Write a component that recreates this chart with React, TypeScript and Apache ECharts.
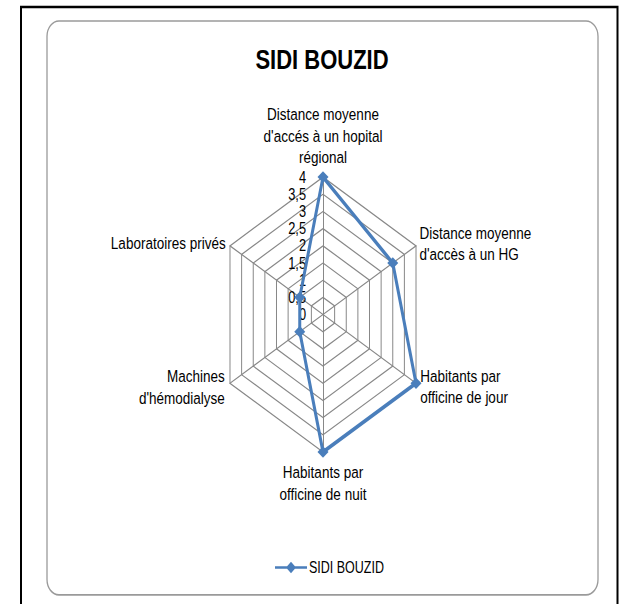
import React, { useEffect, useRef } from "react";
import * as echarts from "echarts";

// Indicators listed counter-clockwise from the top (ECharts radar order)
const indicatorNames = [
  "Distance moyenne\nd'accés à un hopital\nrégional",
  "Laboratoires privés",
  "Machines\nd'hémodialyse",
  "Habitants par\nofficine de nuit",
  "Habitants par\nofficine de jour",
  "Distance moyenne\nd'accès à un HG",
];
const nameGaps = [7, 5, 6, 7, 5, 4];
const seriesName = "SIDI BOUZID";
const seriesValues = [4, 1, 1, 4, 4, 3];
const axisMax = 4;
const splitCount = 8;

const SCALE_Y = 1.2797;
const W = 619;
const H = 472;
const FONT = "'Liberation Sans', Arial, sans-serif";
const BLUE = "#4A7EBB";

export default function App() {
  const ref = useRef<HTMLDivElement>(null);
  useEffect(() => {
    if (!ref.current) return;
    const chart = echarts.init(ref.current, undefined, { renderer: "svg" });
    chart.setOption({
      animation: false,
      backgroundColor: "#fff",
      graphic: [
        {
          type: "rect",
          shape: { x: 21, y: 5.5, width: 596.5, height: 520 },
          style: { fill: "none", stroke: "#000", lineWidth: 2 },
          silent: true,
        },
        {
          type: "rect",
          shape: { x: 47, y: 16.4, width: 551, height: 448.4, r: 12 },
          style: { fill: "none", stroke: "#9a9a9a", lineWidth: 1.3 },
          silent: true,
        },
        {
          type: "text",
          x: 322,
          y: 46,
          style: {
            text: seriesName,
            align: "center",
            verticalAlign: "middle",
            fontFamily: FONT,
            fontSize: 22,
            fontWeight: "bold",
            fill: "#000",
          },
        },
      ],
      legend: {
        data: [seriesName],
        left: 270,
        top: 432,
        itemWidth: 32,
        itemHeight: 9,
        itemGap: 10,
        icon: "path://M0,3.5 L32,3.5 L32,5.5 L0,5.5 Z M16,0 L21,4.5 L16,9 L11,4.5 Z",
        textStyle: { fontFamily: FONT, fontSize: 12.5, color: "#000", padding: [0, 0, 0, -3] },
      },
      radar: {
        center: [323, 245.8],
        radius: 107.4,
        startAngle: 90,
        splitNumber: splitCount,
        shape: "polygon",
        axisName: {
          color: "#000",
          fontFamily: FONT,
          fontSize: 13.5,
          lineHeight: 17,
        },
        axisLine: { show: true, lineStyle: { color: "#888", width: 1 } },
        splitLine: { show: true, lineStyle: { color: "#888", width: 1 } },
        splitArea: { show: false },
        axisTick: { show: false },
        axisLabel: { show: false },
        indicator: indicatorNames.map((name, i) => {
          const ind: any = { name, min: 0, max: axisMax, nameGap: nameGaps[i] };
          if (i === 0) {
            ind.axisLabel = {
              show: true,
              margin: 17,
              color: "#000",
              fontFamily: FONT,
              fontSize: 12.8,
              lineHeight: 11,
              showMinLabel: true,
              showMaxLabel: true,
              hideOverlap: false,
              formatter: (v: number) => String(v).replace(".", ","),
            };
          }
          return ind;
        }),
      },
      series: [
        {
          type: "radar",
          name: seriesName,
          symbol: "diamond",
          symbolSize: [11, 9],
          lineStyle: { color: BLUE, width: 3 },
          itemStyle: { color: BLUE },
          data: [{ name: seriesName, value: seriesValues }],
        },
      ],
    });
    return () => chart.dispose();
  }, []);

  return (
    <div
      style={{
        position: "absolute",
        left: 0,
        top: 0,
        width: W,
        height: H,
        transform: `scaleY(${SCALE_Y})`,
        transformOrigin: "0 0",
        background: "#fff",
      }}
    >
      <div ref={ref} style={{ width: W, height: H }} />
    </div>
  );
}
